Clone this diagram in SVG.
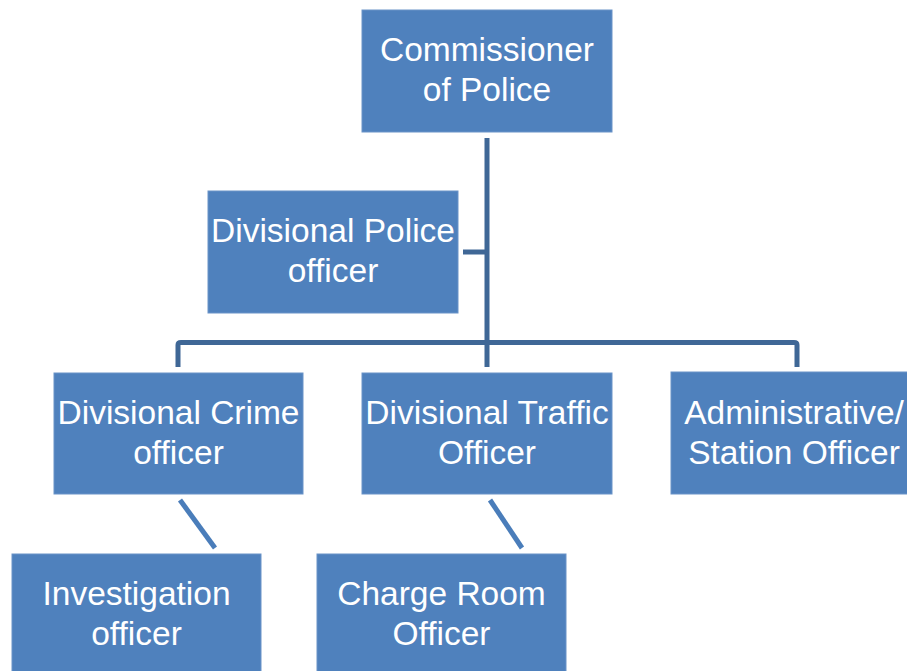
<svg xmlns="http://www.w3.org/2000/svg" width="907" height="671" viewBox="0 0 907 671">
<style>
.box{fill:#4F81BD;stroke:#6A93C8;stroke-width:1}
.t{font-family:"Liberation Sans",Arial,sans-serif;font-size:33.5px;fill:#FFFFFF;text-anchor:middle}
.tree{fill:none;stroke:#3F6796;stroke-width:5;stroke-linejoin:round}
.diag{fill:none;stroke:#4A7DBA;stroke-width:5}
</style>
<rect width="907" height="671" fill="#FFFFFF"/>
<g id="connectors">
<path class="tree" d="M487 138 V367"/>
<path class="tree" d="M178 367 V345 Q178 342.5 181 342.5 H794 Q797 342.5 797 345 V367"/>
<path class="tree" d="M463 252 H487"/>
<path class="diag" d="M180 500 L215 548"/>
<path class="diag" d="M490 500 L522 548"/>
</g>
<g id="commissioner">
<rect class="box" x="362" y="10" width="250" height="122"/>
<text class="t" x="487" y="61">Commissioner</text>
<text class="t" x="487" y="101">of Police</text>
</g>
<g id="divisional-police">
<rect class="box" x="208" y="191" width="250" height="122"/>
<text class="t" x="333" y="242">Divisional Police</text>
<text class="t" x="333" y="282">officer</text>
</g>
<g id="divisional-crime">
<rect class="box" x="54" y="373" width="249" height="121"/>
<text class="t" x="178.5" y="424">Divisional Crime</text>
<text class="t" x="178.5" y="464">officer</text>
</g>
<g id="divisional-traffic">
<rect class="box" x="362" y="373" width="250" height="121"/>
<text class="t" x="487" y="424">Divisional Traffic</text>
<text class="t" x="487" y="464">Officer</text>
</g>
<g id="administrative">
<rect class="box" x="671" y="372" width="250" height="122"/>
<text class="t" x="794" y="424">Administrative/</text>
<text class="t" x="794" y="464">Station Officer</text>
</g>
<g id="investigation">
<rect class="box" x="12" y="554" width="249" height="122"/>
<text class="t" x="136.5" y="605">Investigation</text>
<text class="t" x="136.5" y="645">officer</text>
</g>
<g id="charge-room">
<rect class="box" x="317" y="554" width="249" height="122"/>
<text class="t" x="441.5" y="605">Charge Room</text>
<text class="t" x="441.5" y="645">Officer</text>
</g>
</svg>
